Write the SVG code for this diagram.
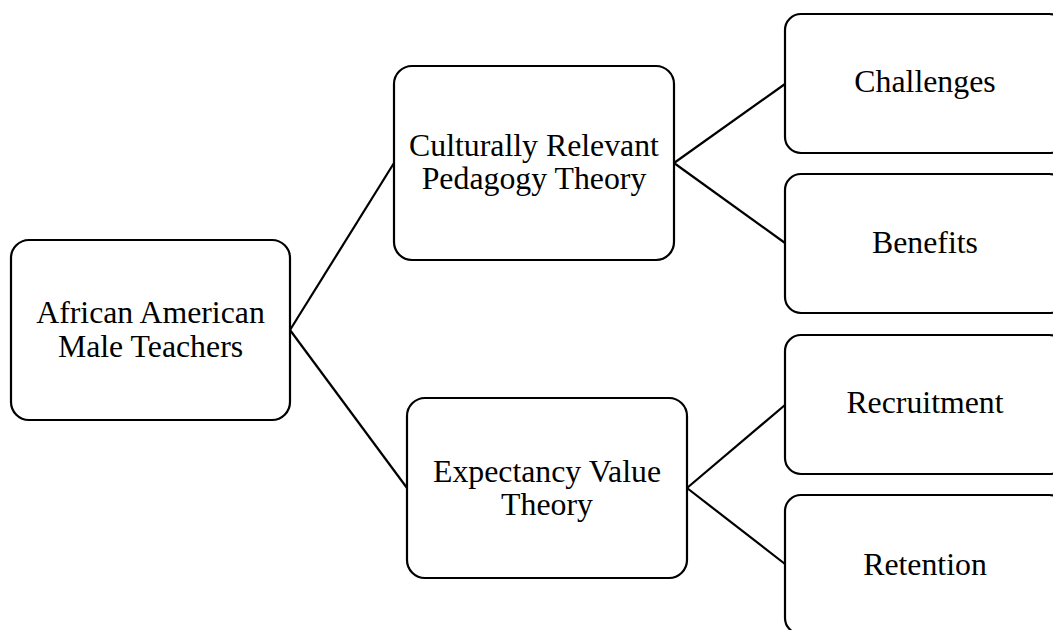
<svg xmlns="http://www.w3.org/2000/svg" width="1053" height="630" viewBox="0 0 1053 630">
<style>
.box{fill:#fff;stroke:#000;stroke-width:2.2}
.lbl{font-family:"Liberation Serif","Times New Roman",serif;font-size:31.8px;fill:#000;text-anchor:middle}
.conn{stroke:#000;stroke-width:2.2;fill:none}
</style>
<rect width="1053" height="630" fill="#fff"/>
<g id="connectors">
<line class="conn" x1="290" y1="330" x2="394" y2="163"/>
<line class="conn" x1="290" y1="330" x2="407" y2="488"/>
<line class="conn" x1="674" y1="163" x2="785" y2="84"/>
<line class="conn" x1="674" y1="163" x2="785" y2="243"/>
<line class="conn" x1="687" y1="488" x2="785" y2="405"/>
<line class="conn" x1="687" y1="488" x2="785" y2="564"/>
</g>
<g id="n_root">
<rect class="box" x="11" y="240" width="279" height="180" rx="18"/>
<text class="lbl" x="150.5" y="323">African American</text>
<text class="lbl" x="150.5" y="357">Male Teachers</text>
</g>
<g id="n_crp">
<rect class="box" x="394" y="66" width="280" height="194" rx="18"/>
<text class="lbl" x="534" y="156">Culturally Relevant</text>
<text class="lbl" x="534" y="189">Pedagogy Theory</text>
</g>
<g id="n_evt">
<rect class="box" x="407" y="398" width="280" height="180" rx="18"/>
<text class="lbl" x="547" y="482">Expectancy Value</text>
<text class="lbl" x="547" y="515">Theory</text>
</g>
<g id="n_challenges">
<rect class="box" x="785" y="14" width="280" height="139" rx="16"/>
<text class="lbl" x="925" y="92">Challenges</text>
</g>
<g id="n_benefits">
<rect class="box" x="785" y="174" width="280" height="139" rx="16"/>
<text class="lbl" x="925" y="253">Benefits</text>
</g>
<g id="n_recruitment">
<rect class="box" x="785" y="335" width="280" height="139" rx="16"/>
<text class="lbl" x="925" y="413">Recruitment</text>
</g>
<g id="n_retention">
<rect class="box" x="785" y="495" width="280" height="139" rx="16"/>
<text class="lbl" x="925" y="575">Retention</text>
</g>
</svg>
